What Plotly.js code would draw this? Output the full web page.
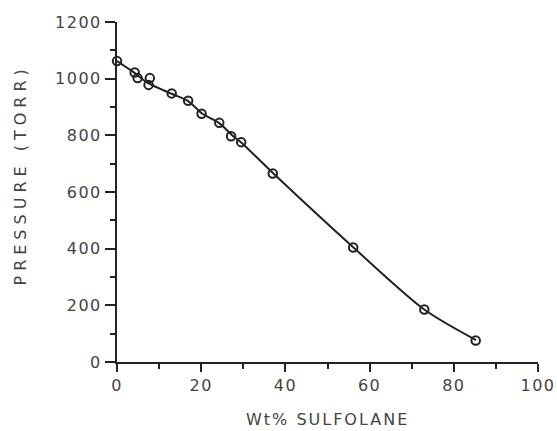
<!DOCTYPE html>
<html>
<head>
<meta charset="utf-8">
<script src="https://cdn.plot.ly/plotly-3.0.1.min.js"></script>
<style>
  html, body { margin: 0; padding: 0; background: #fff; }
  #chart { width: 557px; height: 431px; }
  .xtick text, .ytick text { letter-spacing: 1.5px; }
</style>
</head>
<body>
<div id="chart"></div>
<script>
// Measured points (wt% sulfolane, pressure in torr)
const wtPct    = [0, 4.2, 4.9, 7.8, 7.5, 13.0, 16.9, 20.1, 24.3, 27.1, 29.5, 37.0, 56.1, 73.0, 85.2];
const pressure = [1062, 1022, 1002, 1002, 978, 948, 922, 876, 844, 797, 776, 665, 404, 185, 76];

// Smooth curve drawn through the data
const curveX = [0, 4.0, 7.4, 13.1, 16.9, 20.2, 24.2, 27.6, 29.5, 37.1, 56.1, 72.9, 85.3];
const curveY = [1062, 1022, 984, 946, 921, 877, 844, 797, 775, 666, 405, 186, 77];

const xTicks = [0, 20, 40, 60, 80, 100];
const yTicks = [0, 200, 400, 600, 800, 1000, 1200];

const xTitle = 'Wt% SULFOLANE';
const yTitle = 'PRESSURE (TORR)';

const ink = '#222222';
const grey = '#444444';

const traces = [
  {
    x: curveX, y: curveY, type: 'scatter', mode: 'lines',
    line: { color: ink, width: 2, shape: 'spline', smoothing: 0.8 },
    hoverinfo: 'skip', cliponaxis: false
  },
  {
    x: wtPct, y: pressure, type: 'scatter', mode: 'markers',
    marker: { symbol: 'circle-open', size: 8.5, color: ink, line: { color: ink, width: 2 } },
    cliponaxis: false
  }
];

const axisCommon = {
  showline: true, linecolor: ink, linewidth: 2,
  showgrid: false, zeroline: false,
  ticks: 'outside', tickcolor: ink, tickwidth: 2,
  tickfont: { family: 'DejaVu Sans', size: 16, color: grey },
  fixedrange: true
};

const layout = {
  width: 557, height: 431,
  margin: { l: 117, r: 19, t: 22, b: 69, pad: 0 },
  paper_bgcolor: '#fff', plot_bgcolor: '#fff',
  showlegend: false,
  xaxis: Object.assign({}, axisCommon, {
    range: [0, 100], tickmode: 'array', tickvals: xTicks, ticktext: xTicks.map(String),
    ticklen: 8,
    minor: { dtick: 10, tick0: 0, ticks: 'outside', ticklen: 5, tickwidth: 2, tickcolor: ink }
  }),
  yaxis: Object.assign({}, axisCommon, {
    range: [0, 1200], tickmode: 'array', tickvals: yTicks, ticktext: yTicks.map(String),
    ticklen: 10,
    minor: { dtick: 100, tick0: 0, ticks: 'outside', ticklen: 5, tickwidth: 2, tickcolor: ink }
  }),
  annotations: [
    {
      text: xTitle, xref: 'paper', yref: 'paper', x: 0.5, y: -0.17,
      xanchor: 'center', yanchor: 'middle', showarrow: false,
      font: { family: 'DejaVu Sans', size: 16, color: grey }
    },
    {
      text: yTitle, xref: 'paper', yref: 'paper', x: -0.228, y: 0.55,
      xanchor: 'center', yanchor: 'middle', showarrow: false, textangle: -90,
      font: { family: 'DejaVu Sans', size: 16, color: grey }
    }
  ]
};

Plotly.newPlot('chart', traces, layout, { staticPlot: true, displayModeBar: false }).then(function () {
  const anns = document.querySelectorAll('.annotation-text');
  if (anns[0]) anns[0].style.letterSpacing = '2px';
  if (anns[1]) anns[1].style.letterSpacing = '5px';
});
</script>
</body>
</html>
